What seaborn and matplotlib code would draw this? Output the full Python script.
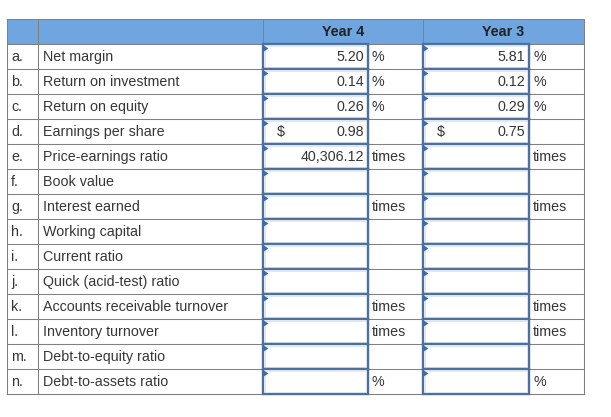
import seaborn as sns
import matplotlib.pyplot as plt
from matplotlib.patches import Rectangle, Polygon

# table content
letters = ['a.', 'b.', 'c.', 'd.', 'e.', 'f.', 'g.', 'h.', 'i.', 'j.', 'k.', 'l.', 'm.', 'n.']
labels = ['Net margin', 'Return on investment', 'Return on equity', 'Earnings per share',
          'Price-earnings ratio', 'Book value', 'Interest earned', 'Working capital',
          'Current ratio', 'Quick (acid-test) ratio', 'Accounts receivable turnover',
          'Inventory turnover', 'Debt-to-equity ratio', 'Debt-to-assets ratio']
years = ['Year 4', 'Year 3']
year4_values = [5.20, 0.14, 0.26, 0.98, 40306.12, None, None, None, None, None, None, None, None, None]
year3_values = [5.81, 0.12, 0.29, 0.75, None, None, None, None, None, None, None, None, None, None]
year4_units = ['%', '%', '%', '', 'times', '', 'times', '', '', '', 'times', 'times', '', '%']
year3_units = ['%', '%', '%', '', 'times', '', 'times', '', '', '', 'times', 'times', '', '%']
dollar_rows = ['d.']

sns.set_theme(style='white')
plt.rcParams['font.family'] = ['Liberation Sans', 'DejaVu Sans']

fig = plt.figure(figsize=(6.11, 4.17), dpi=100)
ax = fig.add_axes([0, 0, 1, 1])
ax.set_xlim(0, 611)
ax.set_ylim(417, 0)
ax.axis('off')

# layout (pixel space)
left, right = 7, 584
top, head_h, row_h = 19, 25, 25
col_lbl, col_in1, col_u1, col_in2, col_u2 = 38, 263, 368, 423, 529
grid_c = '#808080'
text_c = '#363636'
box_c = '#4f6f9d'
n = len(labels)
bottom = top + head_h + n * row_h

# header band
ax.add_patch(Rectangle((left, top), right - left, head_h, facecolor='#70a6e0', edgecolor='none'))
for x, txt in zip([(col_in1 + col_in2) / 2, (col_in2 + right) / 2], years):
    ax.text(x, top + head_h / 2 + 0.5, txt, ha='center', va='center', fontsize=10.3,
            fontweight='bold', color='#222222')

# grid lines
lw = 0.75
ax.plot([left, right, right, left, left], [top, top, bottom, bottom, top], color=grid_c, lw=lw)
for i in range(n + 1):
    y = top + head_h + i * row_h
    ax.plot([left, right], [y, y], color=grid_c, lw=lw)
for x in [col_lbl, col_in1, col_in2]:
    ax.plot([x, x], [top, bottom], color=grid_c, lw=lw)
for x in [col_u1, col_u2]:
    ax.plot([x, x], [top + head_h, bottom], color=grid_c, lw=lw)

fs = 10.3
for i in range(n):
    y0 = top + head_h + i * row_h
    yc = y0 + row_h / 2 + 0.5
    ax.text(col_lbl - 27, yc, letters[i], ha='left', va='center', fontsize=fs, color=text_c)
    ax.text(col_lbl + 5, yc, labels[i], ha='left', va='center', fontsize=fs, color=text_c)

    for x_in, x_u, vals, units in [(col_in1, col_u1, year4_values, year4_units),
                                   (col_in2, col_u2, year3_values, year3_units)]:
        # input box with light inner edge
        ax.add_patch(Rectangle((x_in, y0), x_u - x_in, row_h, facecolor='white',
                               edgecolor=box_c, lw=1.7, zorder=3))
        ax.add_patch(Rectangle((x_in + 2, y0 + 2), x_u - x_in - 4, row_h - 4, facecolor='none',
                               edgecolor='#d6e4f5', lw=0.6, zorder=3))
        ax.add_patch(Polygon([[x_in, y0 + 1], [x_in + 5.5, y0 + 4.5], [x_in, y0 + 8]], closed=True,
                             facecolor='#3a6cb5', edgecolor='none', zorder=4))
        if vals[i] is not None:
            ax.text(x_u - 4, yc, f'{vals[i]:,.2f}', ha='right', va='center', fontsize=fs,
                    color=text_c, zorder=5)
        if letters[i] in dollar_rows:
            ax.text(x_in + 14, yc, '$', ha='left', va='center', fontsize=fs, color=text_c, zorder=5)
        if units[i]:
            ax.text(x_u + 4, yc, units[i], ha='left', va='center', fontsize=fs, color=text_c)

fig.savefig('out.png', dpi=100, facecolor='white')
